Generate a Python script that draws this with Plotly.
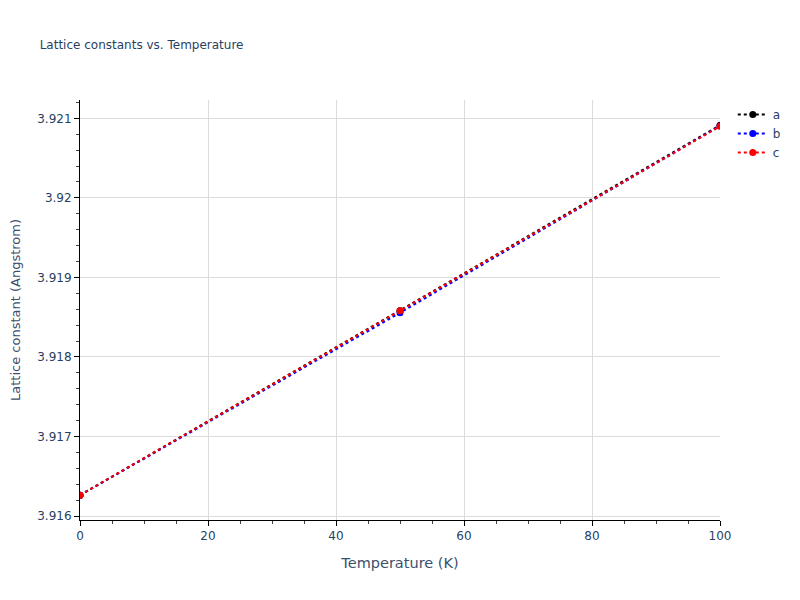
import plotly.graph_objects as go

temperature = [0, 50, 100]
a_values = [3.916262, 3.918582, 3.920912]
b_values = [3.916262, 3.918555, 3.920905]
c_values = [3.916262, 3.918582, 3.920900]

series = [("a", a_values, "black"), ("b", b_values, "blue"), ("c", c_values, "red")]

fig = go.Figure()
for name, vals, color in series:
    fig.add_trace(go.Scatter(
        x=temperature, y=vals, name=name, mode="lines+markers",
        line=dict(color=color, dash="dot", width=2),
        marker=dict(color=color, size=7),
    ))

axis_style = dict(
    showline=True, linecolor="black", linewidth=1,
    ticks="outside", tickcolor="black", ticklen=5,
    showgrid=True, gridcolor="#dcdcdc", zeroline=False,
    tickfont=dict(size=12, color="#2a3f5f"),
    automargin=False,
)

fig.update_xaxes(title=dict(text="Temperature (K)", font=dict(size=14.5, color="#3b4f6e")),
                 range=[0, 100], dtick=20,
                 minor=dict(dtick=5, ticks="outside", ticklen=3, tickcolor="#444", showgrid=False),
                 **axis_style)
fig.update_yaxes(title=dict(text="Lattice constant (Angstrom)", font=dict(size=13, color="#3b4f6e")),
                 range=[3.91595, 3.92123], dtick=0.001,
                 minor=dict(dtick=0.0002, ticks="outside", ticklen=3, tickcolor="#444", showgrid=False),
                 **axis_style)

# page body adds an 8px margin, so shrink the figure by that amount
fig.update_layout(
    title=dict(text="Lattice constants vs. Temperature", x=0.04, y=0.9375, yref="container",
               yanchor="middle", font=dict(size=12, color="#2a3f5f")),
    width=792, height=592,
    plot_bgcolor="white", paper_bgcolor="white",
    margin=dict(l=72, r=80, t=92, b=80),
    font=dict(family="DejaVu Sans, Verdana, sans-serif", color="#2a3f5f"),
    legend=dict(font=dict(size=12)),
)

fig.write_html("out.html")
